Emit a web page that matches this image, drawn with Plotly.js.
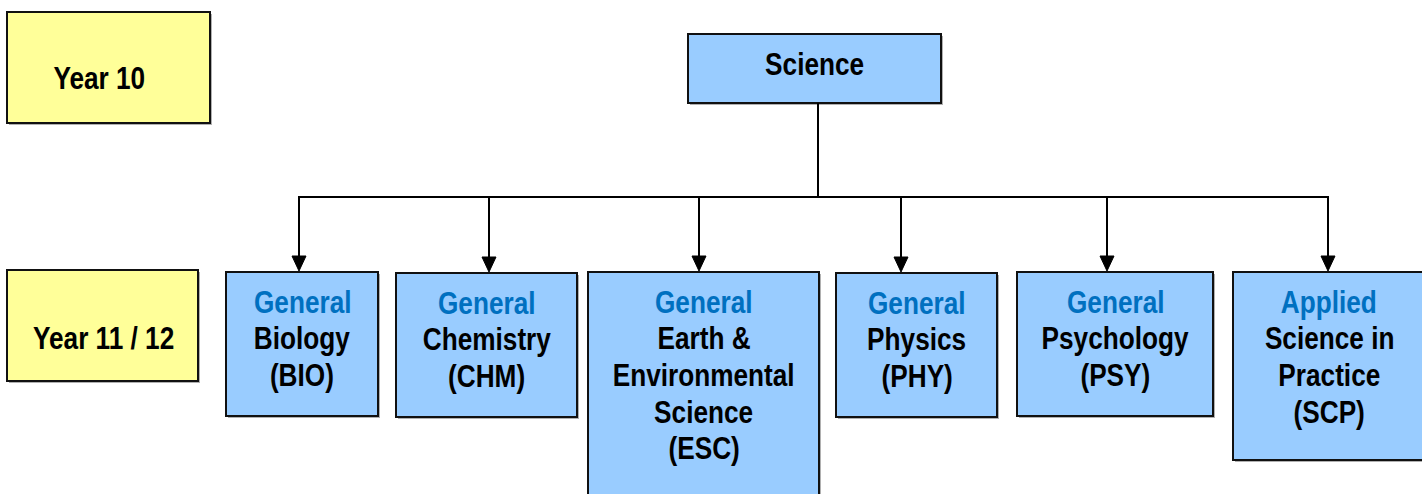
<!DOCTYPE html>
<html>
<head>
<meta charset="utf-8">
<script src="https://cdn.plot.ly/plotly-3.0.1.min.js"></script>
<style>
  html, body { margin: 0; padding: 0; background: #ffffff; }
  #chart { width: 1422px; height: 494px; }
</style>
</head>
<body>
<div id="chart"></div>
<script>
// ---- Content (text only) ----
const levelLabels = ['Year 10', 'Year 11 / 12'];
const rootLabel = 'Science';
const courseTypes = ['General', 'General', 'General', 'General', 'General', 'Applied'];
const courseNames = [
  ['Biology'],
  ['Chemistry'],
  ['Earth &', 'Environmental', 'Science'],
  ['Physics'],
  ['Psychology'],
  ['Science in', 'Practice']
];
const courseCodes = ['BIO', 'CHM', 'ESC', 'PHY', 'PSY', 'SCP'];

// ---- Geometry (layout, pixel space) ----
const W = 1422, H = 494;
const levelBoxes = [[7, 210, 12, 123], [7, 198, 270, 381]];
const levelTextPos = [[99, 78], [103, 338]];
const rootBox = [688, 941, 34, 103];
const rootTextY = 64;
const courseBoxes = [
  [226, 378, 272, 416],
  [396, 577, 273, 417],
  [588, 819, 272, 505],
  [836, 997, 273, 417],
  [1017, 1213, 272, 416],
  [1233, 1426, 272, 460]
];
const arrowX = [299, 489, 699, 901, 1107, 1328];
const busY = 197;
const rootStemX = 818;
const firstLineY = 302;
const linePitch = 36.7;

const FONT = 'Liberation Sans Narrow, Arial Narrow, Liberation Sans, Arial, sans-serif';
const FS = 31;
const BLUE_FILL = '#99CCFF';
const YELLOW_FILL = '#FFFF99';
const BLUE_TEXT = '#0070C0';
const EDGE = '#111111';

function narrowAvailable() {
  const c = document.createElement('canvas').getContext('2d');
  c.font = 'bold 40px "Liberation Sans Narrow", monospace';
  const a = c.measureText('Environmental Science').width;
  c.font = 'bold 40px monospace';
  const b = c.measureText('Environmental Science').width;
  return Math.abs(a - b) > 1;
}
const HAS_NARROW = narrowAvailable();
const SQUEEZE = HAS_NARROW ? 1 : 0.845;

const shapes = [];
const annotations = [];

function box(b, fill) {
  shapes.push({type: 'rect', xref: 'x', yref: 'y', x0: b[0] + 2, x1: b[1] + 2, y0: b[2] + 2, y1: b[3] + 2,
    fillcolor: '#b0b0b0', line: {width: 0}, layer: 'above'});
  shapes.push({type: 'rect', xref: 'x', yref: 'y', x0: b[0], x1: b[1], y0: b[2], y1: b[3],
    fillcolor: fill, line: {color: EDGE, width: 2}, layer: 'above'});
}
function text(x, y, t, color) {
  annotations.push({x: x, y: y, xref: 'x', yref: 'y', text: t, showarrow: false,
    xanchor: 'center', yanchor: 'middle',
    font: {family: FONT, size: FS, color: color, weight: 'bold'}});
}
function line(x0, y0, x1, y1) {
  shapes.push({type: 'line', xref: 'x', yref: 'y', x0: x0, y0: y0, x1: x1, y1: y1,
    line: {color: '#000000', width: 2}, layer: 'above'});
}

levelLabels.forEach((lab, i) => {
  box(levelBoxes[i], YELLOW_FILL);
  text(levelTextPos[i][0], levelTextPos[i][1], lab, '#000000');
});

box(rootBox, BLUE_FILL);
text((rootBox[0] + rootBox[1]) / 2, rootTextY, rootLabel, '#000000');

line(rootStemX, rootBox[3], rootStemX, busY);
line(Math.min(...arrowX) - 1, busY, Math.max(...arrowX) + 1, busY);
arrowX.forEach((ax, i) => {
  const top = courseBoxes[i][2] - 1;
  line(ax, busY, ax, top - 12);
  shapes.push({type: 'path', xref: 'x', yref: 'y',
    path: `M ${ax - 7} ${top - 15} L ${ax + 7} ${top - 15} L ${ax} ${top} Z`,
    fillcolor: '#000000', line: {color: '#000000', width: 1}, layer: 'above'});
});

courseCodes.forEach((code, i) => {
  const b = courseBoxes[i];
  box(b, BLUE_FILL);
  const cx = (b[0] + Math.min(b[1], 1425)) / 2;
  const lines = [courseTypes[i]].concat(courseNames[i]).concat(['(' + code + ')']);
  lines.forEach((t, k) => {
    text(cx, firstLineY + k * linePitch + (b[2] - 272), t, k === 0 ? BLUE_TEXT : '#000000');
  });
});

const layout = {
  width: W, height: H,
  margin: {l: 0, r: 0, t: 0, b: 0, pad: 0},
  paper_bgcolor: '#ffffff', plot_bgcolor: '#ffffff',
  xaxis: {range: [0, W], visible: false, fixedrange: true},
  yaxis: {range: [H, 0], visible: false, fixedrange: true},
  showlegend: false,
  shapes: shapes,
  annotations: annotations
};

function squeezeText(gd) {
  if (SQUEEZE === 1) return;
  gd.querySelectorAll('.annotation-text').forEach(t => {
    t.removeAttribute('transform');
    const bb = t.getBBox();
    const cx = bb.x + bb.width / 2;
    t.setAttribute('transform', `translate(${cx},0) scale(${SQUEEZE},1) translate(${-cx},0)`);
  });
}

Plotly.newPlot('chart', [{x: [], y: [], type: 'scatter', mode: 'markers', hoverinfo: 'skip'}], layout,
  {displayModeBar: false, staticPlot: true}).then(gd => squeezeText(gd));
</script>
</body>
</html>
